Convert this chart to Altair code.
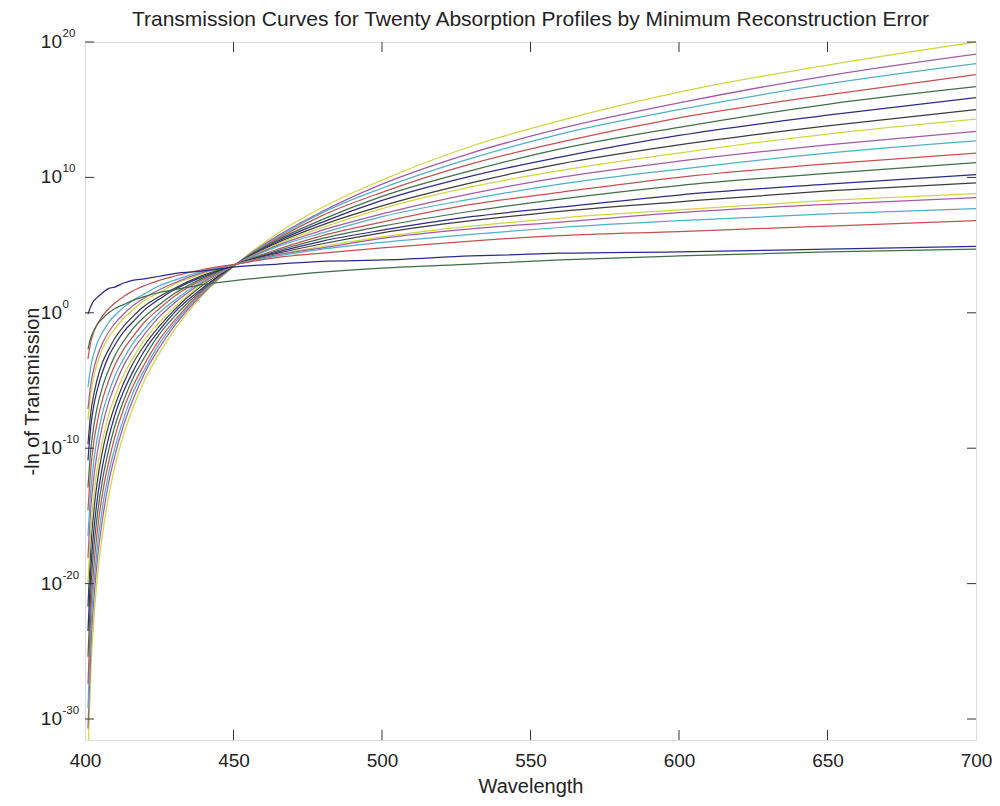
import altair as alt
import pandas as pd

wavelengths = [401, 402, 403, 404, 406, 408, 410, 413, 416, 420, 425, 430, 440, 451,
               465, 480, 500, 530, 560, 600, 650, 700]

# log10 of "-ln of Transmission" for each of the twenty curves (top to bottom at 700 nm)
curve01 = [-32.7,-26.3,-22.6,-19.9,-16.2,-13.5,-11.4,-9.0,-7.1,-5.0,-3.0,-1.3,1.4,3.6,5.9,7.8,9.8,12.3,14.2,16.3,18.3,20.0]
curve02 = [-30.7,-24.6,-21.1,-18.6,-15.1,-12.5,-10.6,-8.3,-6.5,-4.5,-2.6,-1.0,1.5,3.6,5.7,7.5,9.5,11.8,13.6,15.5,17.5,19.1]
curve03 = [-29.2,-23.4,-20.0,-17.6,-14.2,-11.8,-10.0,-7.8,-6.0,-4.2,-2.3,-0.8,1.6,3.6,5.6,7.4,9.2,11.4,13.2,15.0,16.9,18.4]
curve04 = [-27.4,-21.9,-18.7,-16.4,-13.2,-11.0,-9.2,-7.1,-5.5,-3.8,-2.0,-0.6,1.7,3.6,5.5,7.2,8.9,11.0,12.6,14.4,16.1,17.6]
curve05 = [-25.4,-20.3,-17.3,-15.2,-12.2,-10.1,-8.4,-6.5,-4.9,-3.3,-1.6,-0.3,1.8,3.6,5.4,6.9,8.6,10.5,12.1,13.7,15.4,16.7]
curve06 = [-23.5,-18.8,-16.0,-14.0,-11.2,-9.2,-7.6,-5.8,-4.4,-2.8,-1.3,0.0,1.9,3.6,5.3,6.7,8.3,10.1,11.5,13.1,14.6,15.9]
curve07 = [-21.7,-17.2,-14.6,-12.7,-10.1,-8.3,-6.9,-5.2,-3.8,-2.4,-1.0,0.2,2.1,3.6,5.2,6.5,7.9,9.6,11.0,12.4,13.8,15.0]
curve08 = [-20.0,-15.9,-13.4,-11.7,-9.3,-7.5,-6.2,-4.6,-3.4,-2.0,-0.7,0.4,2.2,3.6,5.1,6.3,7.7,9.3,10.5,11.8,13.2,14.3]
curve09 = [-18.1,-14.3,-12.1,-10.5,-8.2,-6.6,-5.4,-3.9,-2.8,-1.6,-0.3,0.7,2.3,3.6,5.0,6.1,7.3,8.8,10.0,11.2,12.4,13.4]
curve10 = [-16.5,-13.0,-10.9,-9.4,-7.3,-5.9,-4.7,-3.4,-2.3,-1.2,0.0,0.9,2.4,3.6,4.9,5.9,7.1,8.4,9.5,10.6,11.8,12.7]
curve11 = [-14.6,-11.4,-9.5,-8.2,-6.3,-5.0,-3.9,-2.7,-1.8,-0.7,0.3,1.2,2.5,3.6,4.7,5.7,6.7,8.0,8.9,10.0,11.0,11.8]
curve12 = [-12.9,-10.0,-8.3,-7.1,-5.4,-4.2,-3.2,-2.1,-1.2,-0.3,0.6,1.4,2.6,3.6,4.6,5.5,6.4,7.5,8.4,9.4,10.3,11.1]
curve13 = [-10.9,-8.3,-6.8,-5.8,-4.3,-3.2,-2.4,-1.4,-0.7,0.2,1.0,1.7,2.7,3.6,4.5,5.3,6.1,7.1,7.8,8.7,9.5,10.2]
curve14 = [-9.7,-7.3,-6.0,-5.0,-3.6,-2.7,-1.9,-1.0,-0.3,0.5,1.2,1.8,2.8,3.6,4.4,5.1,5.9,6.8,7.5,8.2,9.0,9.6]
curve15 = [-7.9,-5.9,-4.7,-3.8,-2.6,-1.8,-1.2,-0.4,0.2,0.9,1.5,2.1,2.9,3.6,4.3,4.9,5.6,6.4,7.0,7.6,8.3,8.8]
curve16 = [-7.1,-5.2,-4.1,-3.3,-2.2,-1.4,-0.8,-0.1,0.5,1.1,1.7,2.2,3.0,3.6,4.3,4.8,5.5,6.2,6.7,7.4,8.0,8.5]
curve17 = [-5.5,-3.9,-3.0,-2.3,-1.4,-0.7,-0.2,0.4,0.9,1.4,2.0,2.4,3.1,3.6,4.2,4.7,5.2,5.8,6.3,6.8,7.3,7.7]
curve18 = [-3.4,-2.1,-1.4,-0.9,-0.2,0.3,0.7,1.2,1.6,2.0,2.4,2.7,3.2,3.6,4.1,4.4,4.8,5.3,5.7,6.0,6.4,6.8]
curve19 = [-0.1,0.5,0.9,1.1,1.5,1.8,1.9,2.2,2.4,2.5,2.7,2.9,3.1,3.4,3.6,3.8,3.9,4.2,4.4,4.5,4.7,4.9]
curve20 = [-2.7,-1.8,-1.3,-0.9,-0.4,0.0,0.3,0.6,0.9,1.2,1.5,1.7,2.1,2.4,2.7,3.0,3.3,3.6,3.9,4.2,4.5,4.7]

curves = [curve01, curve02, curve03, curve04, curve05, curve06, curve07, curve08, curve09, curve10,
          curve11, curve12, curve13, curve14, curve15, curve16, curve17, curve18, curve19, curve20]

Y_, M_, C_, R_, G_, B_, K_ = "#cfd640", "#a45aa4", "#50aec6", "#c25250", "#3f6e48", "#2c2c86", "#3c3c3c"
curve_colors = [Y_, M_, C_, R_, G_, B_, K_, Y_, M_, C_, R_, G_, B_, K_, Y_, M_, C_, R_, B_, G_]

x_ticks = [450, 500, 550, 600, 650]
x_labels = [400, 450, 500, 550, 600, 650, 700]
y_exponents = [-30, -20, -10, 0, 10, 20]
title_text = "Transmission Curves for Twenty Absorption Profiles by Minimum Reconstruction Error"

FONT = "Liberation Sans"
TXT = "#222"
W, H = 891, 698
Y_MIN, Y_MAX = 10 ** -31.55, 1e20

ids = [f"c{i+1:02d}" for i in range(len(curves))]
rows = []
for cid, vals in zip(ids, curves):
    for wl, lv in zip(wavelengths, vals):
        rows.append({"wl": wl, "val": 10 ** lv, "curve": cid})
df = pd.DataFrame(rows)

xs = alt.Scale(domain=[400, 700], nice=False, zero=False)
ys = alt.Scale(type="log", domain=[Y_MIN, Y_MAX], nice=False)

xaxis = alt.Axis(
    values=x_labels, format="d", labelFontSize=19, labelFont=FONT, labelColor=TXT,
    labelFlush=False, labelOverlap=False, ticks=False, domain=False, grid=False,
    labelPadding=11, title="Wavelength", titleFont=FONT, titleFontSize=20,
    titleFontWeight="normal", titleColor=TXT, titlePadding=6)
yaxis = alt.Axis(
    labels=False, ticks=False, domain=False, grid=False, title="-ln of Transmission",
    titleFont=FONT, titleFontSize=20, titleFontWeight="normal", titleColor=TXT,
    titlePadding=43)

X = lambda: alt.X("wl:Q", scale=xs, axis=xaxis)
Y = lambda: alt.Y("val:Q", scale=ys, axis=yaxis)

lines = alt.Chart(df).mark_line(strokeWidth=1.25, interpolate="monotone", clip=True).encode(
    x=X(), y=Y(),
    color=alt.Color("curve:N", scale=alt.Scale(domain=ids, range=curve_colors), legend=None),
    order=alt.Order("wl:Q"),
)

ydf = pd.DataFrame({"val": [10.0 ** e for e in y_exponents],
                    "base": ["10"] * len(y_exponents),
                    "exp": [str(e) for e in y_exponents]})
xdf = pd.DataFrame({"wl": x_ticks})
tdf = pd.DataFrame({"t": [title_text]})

tick_col = "#333"
yl = alt.Chart(ydf).mark_rule(color=tick_col, strokeWidth=1).encode(
    y=Y(), x=alt.value(0), x2=alt.value(9))
yr = alt.Chart(ydf).mark_rule(color=tick_col, strokeWidth=1).encode(
    y=Y(), x=alt.value(W - 9), x2=alt.value(W))
xb = alt.Chart(xdf).mark_rule(color=tick_col, strokeWidth=1).encode(
    x=X(), y=alt.value(H - 10), y2=alt.value(H))
xt = alt.Chart(xdf).mark_rule(color=tick_col, strokeWidth=1).encode(
    x=X(), y=alt.value(0), y2=alt.value(10))

base_txt = alt.Chart(ydf).mark_text(align="right", baseline="middle", fontSize=19, font=FONT,
                                    color=TXT).encode(
    y=Y(), x=alt.value(-23), text="base:N")
exp_txt = alt.Chart(ydf).mark_text(align="left", baseline="middle", fontSize=11.5, font=FONT,
                                   color=TXT, dy=-8).encode(
    y=Y(), x=alt.value(-22.5), text="exp:N")
title_mark = alt.Chart(tdf).mark_text(align="center", baseline="alphabetic", fontSize=21,
                                      font=FONT, color=TXT).encode(
    x=alt.value(W / 2), y=alt.value(-16), text="t:N")

chart = alt.layer(lines, yl, yr, xb, xt, base_txt, exp_txt, title_mark).properties(
    width=W, height=H,
    padding={"left": 77, "top": 34, "right": 16, "bottom": 58},
    autosize="none",
).configure_view(stroke="#333", strokeWidth=1.2).configure(background="white")

chart.save("out.html", embed_options={"renderer": "svg", "actions": False})
